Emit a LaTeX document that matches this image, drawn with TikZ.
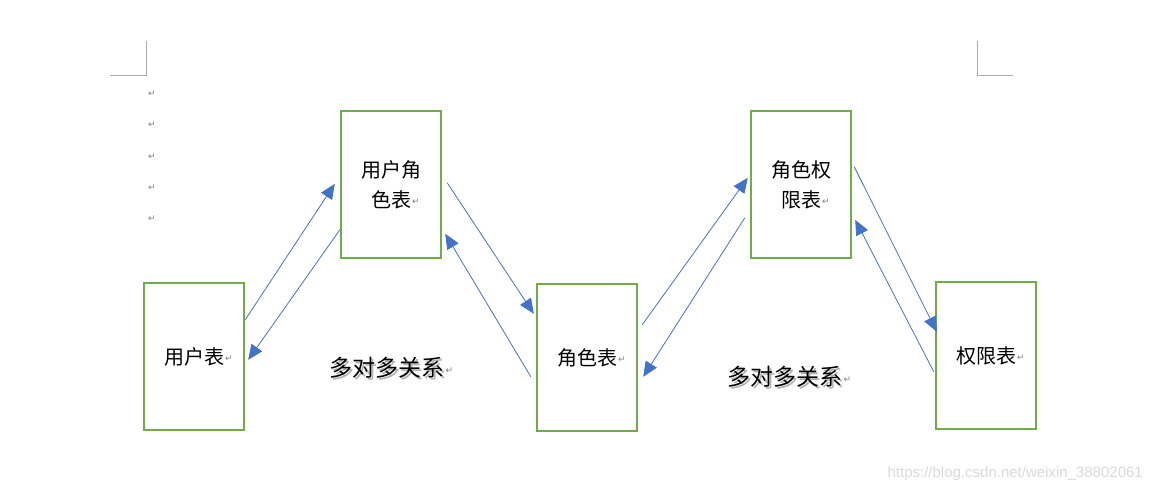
\documentclass[tikz,border=0pt]{standalone}
\usepackage{fontspec}
\setmainfont{Noto Sans CJK SC}
\newfontfamily\markfont{DejaVu Sans}
\newfontfamily\urlfont{Liberation Sans}
\usetikzlibrary{arrows.meta,calc}

\definecolor{boxgreen}{HTML}{70AD47}
\definecolor{arrowblue}{HTML}{4472C4}
\definecolor{markgrey}{HTML}{7F7F7F}
\definecolor{cornergrey}{HTML}{ABABAB}

% paragraph mark after a line (not counted for centring)
\newcommand\pmark{\rlap{\hspace{1pt}\raisebox{3pt}{\markfont\fontsize{9}{9}\selectfont\textcolor{markgrey}{↵}}}}
% text with a soft grey shadow
\newcommand\shadowed[1]{\rlap{\hspace{1.5pt}\raisebox{-1.5pt}{\textcolor{black!30}{#1}}}#1}

\tikzset{
  tablebox/.style={draw=boxgreen, line width=2.4pt, minimum width=100pt, minimum height=147pt,
    inner sep=0pt, align=center, font=\fontsize{20}{30}\selectfont},
  link/.style={draw=arrowblue, line width=0.8pt, -{Triangle[length=15pt,width=13pt]}},
  relation/.style={inner sep=0pt, font=\fontsize{23}{23}\selectfont},
  pmarknode/.style={inner sep=0pt, text=markgrey, font=\markfont\fontsize{9}{9}\selectfont},
}

\begin{document}
\begin{tikzpicture}[x=1pt,y=-1pt]
  \useasboundingbox (0,0) rectangle (1151,492);

  % page corner marks
  \draw[cornergrey, line width=1pt] (110,76) -- (146,76) -- (146,41);
  \draw[cornergrey, line width=1pt] (977,41) -- (977,76) -- (1013,76);

  % empty paragraphs
  \foreach \y [count=\i] in {94,125,157,188,219}
    \node[pmarknode] (pm\i) at (152,\y) {↵};

  % tables
  \node[tablebox] (user)  at (194,356.5) {用户表\pmark};
  \node[tablebox] (urole) at (391,184.5) {用户角\\色表\pmark};
  \node[tablebox] (role)  at (587,357.5) {角色表\pmark};
  \node[tablebox] (rperm) at (801,184.5) {角色权\\限表\pmark};
  \node[tablebox] (perm)  at (986,355.5) {权限表\pmark};

  % relation labels
  \node[relation] (rel1) at (387,369) {\shadowed{多对多关系}\pmark};
  \node[relation] (rel2) at (785,378) {\shadowed{多对多关系}\pmark};

  % arrows between tables
  \draw[link] ($(user.north east)+(0,38)$)   -- ($(urole.north west)+(-5,74)$);
  \draw[link] ($(urole.north west)+(0,120)$) -- ($(user.north east)+(3,78)$);
  \draw[link] ($(urole.north east)+(5,73)$)  -- ($(role.north west)+(-2,31)$);
  \draw[link] ($(role.north west)+(-5,94)$)  -- ($(urole.north east)+(3,124)$);
  \draw[link] ($(role.north east)+(4,42)$)   -- ($(rperm.north west)+(-2,68)$);
  \draw[link] ($(rperm.north west)+(-5,108)$) -- ($(role.north east)+(5,94)$);
  \draw[link] ($(rperm.north east)+(2,57)$)  -- ($(perm.north west)+(2,51)$);
  \draw[link] ($(perm.north west)+(-1,91)$)  -- ($(rperm.north east)+(3,110)$);

  % watermark
  \node[anchor=east, inner sep=0pt, text=black!15, font=\urlfont\fontsize{15}{15}\selectfont]
    (mark) at (1143,474) {https://blog.csdn.net/weixin\_38802061};
\end{tikzpicture}
\end{document}
